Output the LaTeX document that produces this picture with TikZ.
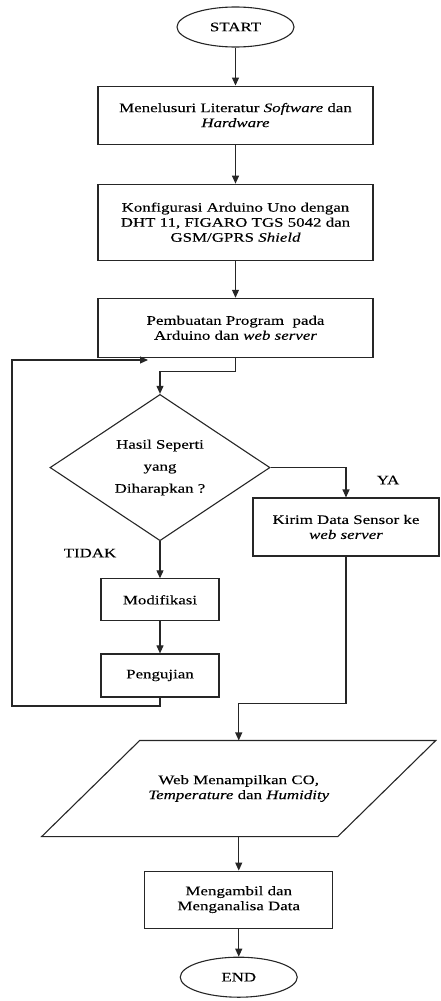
\documentclass[tikz,border=0pt]{standalone}
\usepackage{fontspec}
\setmainfont{Liberation Serif}[FakeStretch=1.3,FakeBold=0.12]
\usetikzlibrary{arrows.meta,positioning,shapes.geometric}
\tikzset{
 base/.style={draw=black!85,line width=1.1pt,align=center,font=\fontsize{13}{15}\selectfont,inner sep=2pt},
 term/.style={base,ellipse,minimum width=117pt,minimum height=40pt},
 proc/.style={base,rectangle,minimum width=275pt,minimum height=58pt},
 small/.style={proc,minimum width=118pt,minimum height=42pt},
 cond/.style={base,diamond,minimum width=220pt,minimum height=145pt,inner sep=0pt,font=\fontsize{13}{22}\selectfont},
 io/.style={base,draw=none,minimum width=295pt,minimum height=95pt},
 lbl/.style={font=\fontsize{13}{15}\selectfont},
 arr/.style={-{Triangle[length=8pt,width=7pt]},line width=1.1pt,draw=black!85}
}
\begin{document}
\begin{tikzpicture}
\useasboundingbox (0,0) rectangle (440pt,-1001pt);
% main column
\node[term] (start) at (235.5pt,-27pt) {START};
\node[proc,below=38pt of start] (lit) {Menelusuri Literatur \textit{Software} dan\\ \textit{Hardware}};
\node[proc,minimum height=76pt,below=39pt of lit] (konf) {Konfigurasi Arduino Uno dengan\\ DHT 11, FIGARO TGS 5042 dan\\ GSM/GPRS \textit{Shield}};
\node[proc,minimum height=59pt,below=37pt of konf] (prog) {Pembuatan Program\ \ pada\\ Arduino dan \textit{web server}};
\node[cond,below=36pt of prog,xshift=-75.5pt] (hasil) {Hasil Seperti\\ yang\\ Diharapkan ?};
\node[proc,minimum width=186pt] (kirim) at (346pt,-527pt) {Kirim Data Sensor ke\\ \textit{web server}};
\node[small,below=37pt of hasil] (modif) {Modifikasi};
\node[small,minimum height=43pt,below=32pt of modif] (uji) {Pengujian};
\node[io] (web) at (238.75pt,-788.5pt) {Web Menampilkan CO,\\ \textit{Temperature} dan \textit{Humidity}};
\draw[base] ([xshift=49pt]web.north west)--([xshift=49pt]web.north east)
 --([xshift=-49pt]web.south east)--([xshift=-49pt]web.south west)--cycle;
\node[proc,minimum width=188pt,minimum height=57pt,below=34pt of web] (ambil) {Mengambil dan\\ Menganalisa Data};
\node[term,below=28pt of ambil] (end) {END};
% labels
\node[lbl] (ya) at (388pt,-480pt) {YA};
\node[lbl] (tidak) at (90pt,-553pt) {TIDAK};
% loop points
\coordinate (loopbot) at (12pt,-706pt);
\coordinate (back) at (148pt,-360pt);
% connectors
\draw[arr] (start)--(lit);
\draw[arr] (lit)--(konf);
\draw[arr] (konf)--(prog);
\draw[arr] (prog.south)--++(0,-14pt)-|(hasil.north);
\draw[arr] (hasil.east)-|(kirim.north);
\draw[arr] (hasil)--(modif);
\draw[arr] (modif)--(uji);
\draw[arr] (uji.south)|-(loopbot)|-(back);
\draw[arr] (kirim.south)--++(0,-147pt)-|(web.north);
\draw[arr] (web)--(ambil);
\draw[arr] (ambil)--(end);
\end{tikzpicture}
\end{document}
